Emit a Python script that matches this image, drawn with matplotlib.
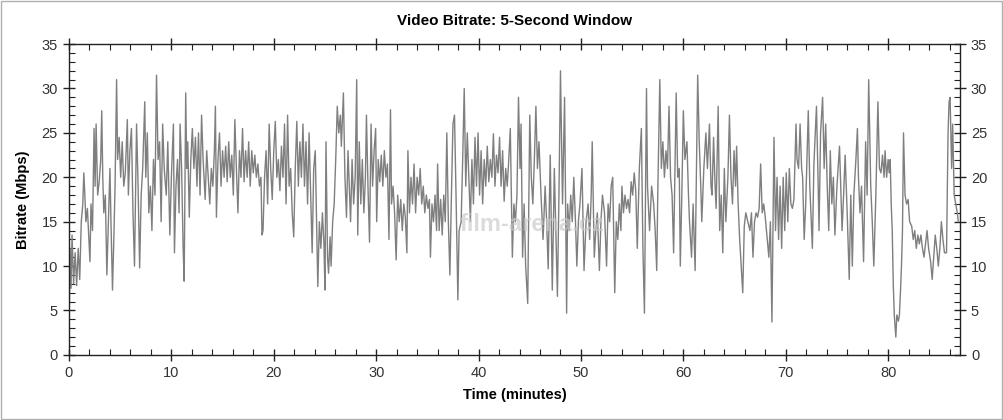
import numpy as np
import matplotlib.pyplot as plt
from matplotlib.ticker import MultipleLocator

plt.rcParams['font.family'] = ['Liberation Sans', 'DejaVu Sans']

# Bitrate (time in minutes, bitrate in Mbps)
minutes = [
    0.0, 0.1, 0.2, 0.3, 0.45, 0.6, 0.75, 0.9, 1.05, 1.2, 1.35, 1.45, 1.55, 1.65, 1.8, 1.95,
    2.05, 2.15, 2.3, 2.45, 2.55, 2.65, 2.8, 2.95, 3.1, 3.2, 3.3, 3.4, 3.55, 3.7, 3.85, 4.0,
    4.1, 4.25, 4.4, 4.5, 4.65, 4.75, 4.9, 5.05, 5.2, 5.35, 5.5, 5.7, 5.8, 5.95, 6.1, 6.25,
    6.4, 6.5, 6.6, 6.75, 6.9, 7.05, 7.2, 7.4, 7.5, 7.65, 7.8, 7.95, 8.1, 8.25, 8.4, 8.55,
    8.7, 8.85, 9.0, 9.15, 9.3, 9.5, 9.65, 9.85, 10.0, 10.2, 10.3, 10.45, 10.6, 10.75, 10.85, 11.0,
    11.15, 11.25, 11.4, 11.5, 11.6, 11.75, 11.9, 12.05, 12.2, 12.35, 12.5, 12.65, 12.8, 12.95, 13.1, 13.3,
    13.45, 13.6, 13.75, 13.9, 14.05, 14.2, 14.3, 14.4, 14.55, 14.7, 14.85, 15.0, 15.15, 15.3, 15.45, 15.6,
    15.75, 15.9, 16.05, 16.2, 16.35, 16.5, 16.65, 16.8, 16.95, 17.1, 17.25, 17.4, 17.55, 17.7, 17.85, 18.0,
    18.15, 18.3, 18.45, 18.6, 18.75, 18.85, 18.95, 19.1, 19.25, 19.4, 19.55, 19.7, 19.85, 20.0, 20.15, 20.3,
    20.45, 20.6, 20.75, 20.9, 21.05, 21.2, 21.35, 21.5, 21.65, 21.8, 21.95, 22.1, 22.25, 22.4, 22.55, 22.7,
    22.85, 23.0, 23.15, 23.3, 23.45, 23.6, 23.75, 23.9, 24.05, 24.15, 24.3, 24.45, 24.6, 24.75, 24.9, 25.0,
    25.1, 25.25, 25.35, 25.5, 25.6, 25.75, 25.9, 26.05, 26.2, 26.35, 26.5, 26.6, 26.8, 26.95, 27.1, 27.25,
    27.4, 27.5, 27.65, 27.8, 27.95, 28.1, 28.2, 28.35, 28.5, 28.65, 28.8, 28.95, 29.05, 29.2, 29.35, 29.5,
    29.65, 29.8, 29.95, 30.05, 30.2, 30.35, 30.5, 30.65, 30.8, 30.95, 31.1, 31.25, 31.4, 31.5, 31.65, 31.8,
    31.95, 32.1, 32.25, 32.4, 32.55, 32.7, 32.85, 33.0, 33.1, 33.25, 33.4, 33.55, 33.7, 33.85, 34.0, 34.15,
    34.3, 34.45, 34.6, 34.75, 34.9, 35.05, 35.2, 35.3, 35.45, 35.6, 35.75, 35.9, 36.0, 36.15, 36.3, 36.45,
    36.6, 36.75, 36.9, 37.05, 37.2, 37.35, 37.5, 37.65, 37.8, 37.98, 38.1, 38.3, 38.45, 38.6, 38.75, 38.9,
    39.05, 39.2, 39.35, 39.5, 39.65, 39.8, 39.95, 40.1, 40.25, 40.4, 40.55, 40.7, 40.85, 41.0, 41.15, 41.3,
    41.45, 41.6, 41.75, 41.9, 42.05, 42.2, 42.35, 42.5, 42.65, 42.8, 42.95, 43.1, 43.3, 43.45, 43.6, 43.75,
    43.9, 44.05, 44.15, 44.3, 44.45, 44.6, 44.8, 45.0, 45.15, 45.3, 45.45, 45.6, 45.75, 45.9, 46.1, 46.3,
    46.5, 46.65, 46.8, 47.0, 47.2, 47.4, 47.55, 47.7, 47.85, 48.0, 48.2, 48.4, 48.6, 48.7, 48.85, 49.0,
    49.15, 49.3, 49.45, 49.6, 49.75, 49.9, 50.1, 50.3, 50.5, 50.7, 50.85, 51.0, 51.1, 51.3, 51.45, 51.6,
    51.8, 51.95, 52.1, 52.3, 52.5, 52.65, 52.8, 52.95, 53.1, 53.3, 53.45, 53.6, 53.75, 53.9, 54.0, 54.15,
    54.3, 54.45, 54.6, 54.75, 54.9, 55.05, 55.2, 55.35, 55.5, 55.7, 55.9, 56.05, 56.2, 56.4, 56.5, 56.7,
    56.9, 57.1, 57.25, 57.4, 57.5, 57.7, 57.85, 58.0, 58.15, 58.3, 58.45, 58.6, 58.75, 58.9, 59.05, 59.3,
    59.45, 59.6, 59.7, 59.85, 60.0, 60.15, 60.35, 60.5, 60.6, 60.8, 60.95, 61.15, 61.4, 61.55, 61.7, 61.8,
    62.0, 62.2, 62.35, 62.55, 62.7, 62.8, 62.95, 63.1, 63.2, 63.4, 63.55, 63.7, 63.85, 64.0, 64.15, 64.35,
    64.5, 64.65, 64.8, 64.95, 65.1, 65.2, 65.35, 65.5, 65.65, 65.8, 65.95, 66.1, 66.3, 66.5, 66.65, 66.8,
    66.95, 67.1, 67.25, 67.4, 67.55, 67.7, 67.85, 68.0, 68.2, 68.35, 68.5, 68.65, 68.85, 69.0, 69.15, 69.3,
    69.45, 69.6, 69.75, 69.9, 70.05, 70.2, 70.35, 70.5, 70.65, 70.8, 71.0, 71.1, 71.25, 71.4, 71.55, 71.65,
    71.8, 71.95, 72.2, 72.35, 72.6, 72.75, 73.0, 73.15, 73.25, 73.4, 73.6, 73.75, 73.9, 74.05, 74.2, 74.35,
    74.5, 74.65, 74.8, 75.0, 75.25, 75.4, 75.5, 75.65, 75.8, 76.0, 76.2, 76.35, 76.5, 76.65, 76.85, 77.0,
    77.1, 77.25, 77.4, 77.6, 77.8, 77.95, 78.1, 78.3, 78.45, 78.6, 78.8, 79.0, 79.15, 79.3, 79.45, 79.6,
    79.7, 79.85, 80.0, 80.1, 80.2, 80.3, 80.4, 80.5, 80.6, 80.75, 80.85, 81.0, 81.1, 81.2, 81.3, 81.4,
    81.5, 81.65, 81.8, 81.95, 82.1, 82.3, 82.45, 82.6, 82.75, 82.9, 83.05, 83.2, 83.35, 83.5, 83.65, 83.8,
    83.95, 84.15, 84.3, 84.45, 84.6, 84.75, 84.9, 85.05, 85.2, 85.35, 85.5, 85.7, 85.85, 85.95, 86.05, 86.2,
    86.3, 86.45, 86.6, 86.75, 86.85,
]
mbps = [
    2, 12, 7.5, 13.5, 8, 11.5, 7.8, 12, 8.5, 15, 17, 20.5, 18, 15, 16.5, 13,
    10.5, 17, 14, 25.5, 19, 26, 18, 19.5, 22, 27.5, 20, 16, 18, 9, 15, 21,
    15, 7.3, 14, 19, 31, 22, 24.5, 20, 24, 19, 20.5, 26.5, 18, 23, 25.5, 16,
    10, 18, 26, 19, 9.8, 18, 21, 28.5, 20, 25, 16, 19, 14, 22, 18, 31.5,
    22, 24, 15, 26, 21, 18, 24, 13.5, 20, 26, 11.5, 19, 22, 16, 26, 21,
    12, 8.3, 29.5, 21, 24, 15.5, 22, 25.5, 21, 24.5, 19, 25, 18, 27, 22, 17.5,
    23, 20, 17, 21, 19, 23, 28, 15.5, 22, 25, 19, 23, 20, 23.5, 19.5, 24,
    20, 22.5, 18, 26.5, 21, 16, 23, 20, 25.5, 19.5, 23, 20, 24, 19, 23, 20.5,
    22.5, 20, 21.5, 19, 20, 13.5, 14, 20, 23, 17, 26, 21, 17.5, 23, 26.3, 20,
    22, 18.5, 23.5, 20, 26, 17, 27, 19, 21, 16, 13.3, 21, 26.3, 19, 24, 20,
    26, 19, 24, 17, 25, 18, 11.5, 21, 23, 17, 7.7, 15, 12, 16, 12.5, 7.3,
    24, 11, 9.2, 13.3, 10, 15, 17, 22, 28, 25, 27, 23.5, 29.5, 20, 15.5, 23,
    18, 15, 22, 17, 20, 31, 13.5, 24, 17, 22, 16, 20, 27, 19, 12.7, 26,
    19, 23, 25.5, 15, 22, 19.5, 22.5, 19, 23, 20, 21.5, 13, 27.6, 17, 19, 16,
    10.7, 18, 15, 17.5, 14, 17, 15.5, 11.5, 23, 16, 20, 17, 21.5, 16, 20, 18,
    21, 17, 19, 16, 18, 16.5, 17.5, 11, 17, 15, 18, 14, 21.5, 14, 17.5, 13.5,
    18, 15, 25, 15, 9, 18, 26, 27, 18, 6.2, 14, 15, 22, 30, 19, 25,
    20, 15, 22, 17, 24.5, 19, 25, 18, 23, 17, 22, 19, 23.5, 19.5, 22, 20,
    24.9, 19, 22.5, 20.5, 24.5, 19, 23, 17.3, 21, 19, 22, 25.5, 11, 17, 15, 18,
    29, 21, 26, 11, 17, 10, 5.8, 27, 20, 17, 22, 28, 21, 24, 18, 13,
    19, 15, 9.7, 22.5, 7.3, 21, 14, 6.6, 18, 32, 17, 29, 4.7, 17, 14, 18,
    15, 20, 15.5, 10, 15, 17, 21, 9.5, 15, 17, 13, 18, 24, 11, 14, 16,
    9.5, 15, 18, 16, 10, 17, 15, 19, 20, 7, 15, 13, 17, 14, 19, 16,
    18, 16.5, 17.5, 16, 19.5, 18, 20.5, 18.5, 12, 21, 25.5, 12, 4.7, 30, 19, 14,
    19, 17, 14, 9.5, 18, 31, 21, 24, 20, 23, 21, 28, 20, 18, 11.5, 29.5,
    20, 21, 10, 18, 27.5, 22, 24, 18, 15, 11, 17, 9.5, 31.5, 24, 19, 15,
    21, 25, 21, 26, 19, 18, 24.5, 19, 16.5, 28, 14, 18, 11.5, 21, 15, 20,
    27, 20, 17, 23, 19, 23.5, 17, 13, 10, 7, 14.5, 16, 15, 14, 16, 11,
    15, 16, 15.5, 16.5, 21.5, 16, 17, 15.5, 13, 11, 15, 3.7, 24.5, 14, 20, 13,
    19, 12, 20, 14, 20.5, 15, 21, 17, 16.5, 17.5, 26, 22, 21, 26, 21, 20,
    13, 17, 27.5, 19, 12, 21.5, 28, 20, 14, 25, 29, 21, 26, 19, 14, 23,
    17, 20, 13.5, 19, 23.5, 18, 14, 18, 22.5, 16, 8.5, 18, 10, 18, 22, 25.5,
    20, 16, 19, 10.5, 24, 18, 31, 19, 15, 10, 18, 28.5, 21, 20.5, 22.5, 20,
    23, 20, 22, 20.5, 22, 17, 14, 8, 4.5, 2, 4.5, 3.8, 4.5, 7, 10, 14,
    25, 18, 17, 17.5, 15, 14.5, 13, 14, 12, 13.5, 12.5, 13.5, 12, 11, 12.5, 14,
    12, 10.5, 8.5, 11, 13.5, 12, 10, 12, 15, 13, 11.5, 11.5, 25, 28.5, 29, 21,
    26, 18, 17, 16, 15,
]

fig = plt.figure(figsize=(10.04, 4.2), dpi=100)
ax = fig.add_axes([0.0687, 0.155, 0.8873, 0.74])

ax.plot(minutes, mbps, color='#7f7f7f', linewidth=1.0)

# watermark
ax.text(0.52, 0.42, 'film-arena.cz', transform=ax.transAxes, fontsize=17,
        fontweight='bold', color='#c8c8c8', alpha=0.65, ha='center', va='center')

ax.set_xlim(0, 87)
ax.set_ylim(0, 35)
ax.xaxis.set_major_locator(MultipleLocator(10))
ax.xaxis.set_minor_locator(MultipleLocator(2))
ax.yaxis.set_major_locator(MultipleLocator(5))
ax.yaxis.set_minor_locator(MultipleLocator(1))

ax.tick_params(which='major', direction='inout', length=9, width=1, color='#222222',
               labelsize=10.5, labelcolor='#333333', top=True, right=True, labelright=True)
ax.tick_params(which='minor', direction='in', length=4, width=0.8, color='#222222',
               top=True, right=True)
for s in ax.spines.values():
    s.set_color('#222222')
    s.set_linewidth(1)

ax.set_title('Video Bitrate: 5-Second Window', fontsize=11, fontweight='bold', pad=14)
ax.set_xlabel('Time (minutes)', fontsize=10.5, fontweight='bold', labelpad=6)
ax.set_ylabel('Bitrate (Mbps)', fontsize=10.5, fontweight='bold', labelpad=8)

# thin frame round the whole picture
fig.patches.append(plt.Rectangle((0.001, 0.002), 0.997, 0.995, transform=fig.transFigure,
                                 fill=False, edgecolor='#b0b0b0', linewidth=1))

fig.savefig('out.png', dpi=100)
